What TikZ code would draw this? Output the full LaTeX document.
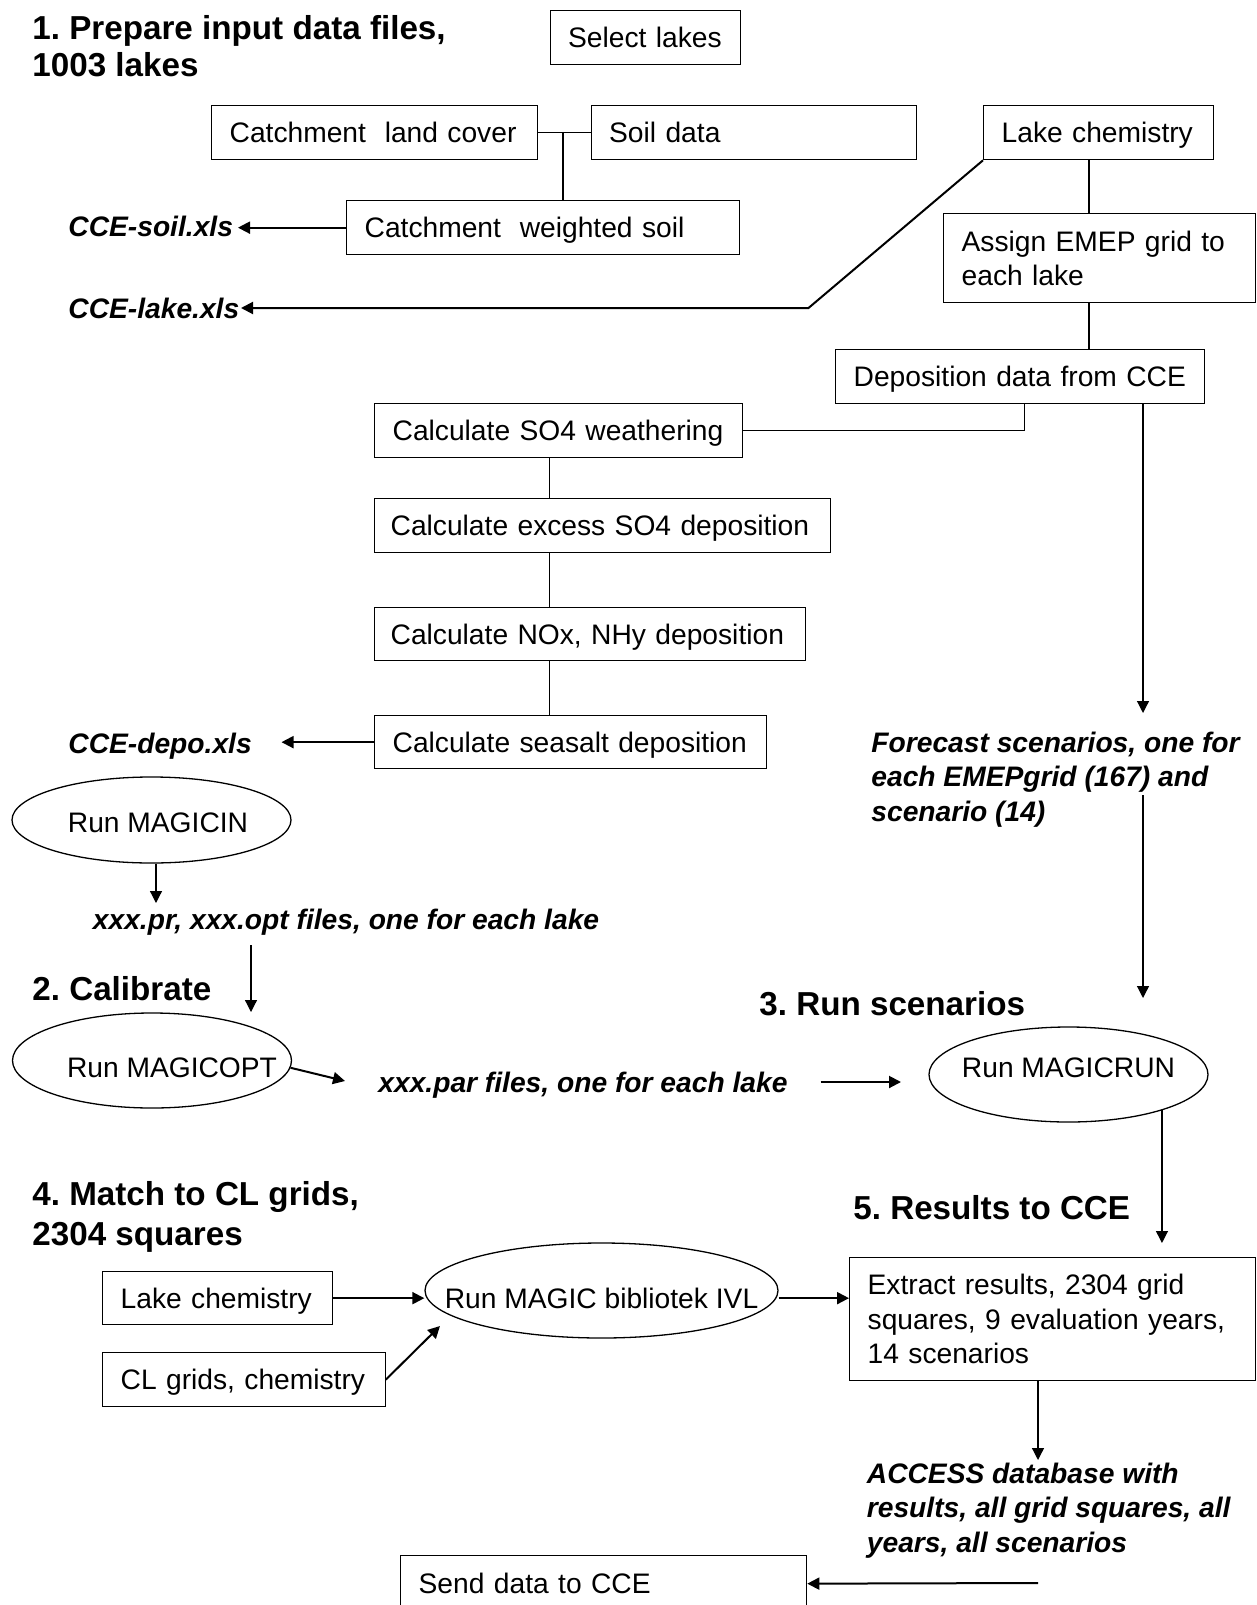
\documentclass[tikz,border=0pt]{standalone}
\usepackage{fontspec}
\setmainfont{Liberation Sans}
\usetikzlibrary{arrows.meta,shapes.geometric}
\newcommand\bodyf{\fontsize{14.1}{17.25}\selectfont}
\newcommand\headf{\fontsize{16.6}{18.5}\selectfont\bfseries}
\newcommand\headg{\fontsize{16.6}{20}\selectfont\bfseries}
\frenchspacing
\begin{document}
\begin{tikzpicture}[x=0.5pt,y=-0.5pt,
  >={Triangle[length=6pt,width=6pt]},
  box/.style={draw, line width=0.65pt, rectangle, anchor=north west, inner xsep=9pt, inner ysep=0pt, align=left, font=\bodyf, text depth=0pt},
  oval/.style={draw, ellipse, line width=0.65pt, inner sep=0pt},
  lblin/.style={font=\bodyf, inner sep=0pt},
  conn/.style={line width=0.6pt},
  thinarr/.style={line width=0.6pt, ->},
  thickarr/.style={line width=1pt, ->},
  lbl/.style={inner sep=0pt, anchor=base west, align=left, font=\bodyf\bfseries\itshape},
  head/.style={inner sep=0pt, anchor=base west, align=left, font=\headf},
  headb/.style={inner sep=0pt, anchor=base west, align=left, font=\headg}]
\useasboundingbox (0,0) rectangle (1257,1605);
\clip (0,0) rectangle (1257,1605);

% headings (base anchor = baseline of last line)
\node[head] (h1) at (32,77) {1. Prepare input data files,\\1003 lakes};
\node[head] (h2) at (32,1000) {2. Calibrate};
\node[head] (h3) at (759,1015) {3. Run scenarios};
\node[headb] (h4) at (32,1245) {4. Match to CL grids,\\2304 squares};
\node[head] (h5) at (853,1219) {5. Results to CCE};

% boxes
\node[box, text width=77.25pt, minimum height=27pt] (select) at (549.5,10) {Select lakes};
\node[box, text width=145pt, minimum height=27pt] (landcover) at (211,105) {Catchment\ \ land cover};
\node[box, text width=144.5pt, minimum height=27pt] (soil) at (590.5,105) {Soil data};
\node[box, text width=178.5pt, minimum height=27pt] (wsoil) at (346,200) {Catchment\ \ weighted soil};
\node[box, text width=96.75pt, minimum height=27pt] (lakechem) at (983,105) {Lake chemistry};
\node[box, text width=138pt, minimum height=44.5pt, text depth=17.25pt] (emep) at (943,213) {Assign EMEP grid to\\each lake};
\node[box, text width=166.5pt, minimum height=27pt] (depo) at (835,349) {Deposition data from CCE};
\node[box, text width=166pt, minimum height=27pt] (so4w) at (374,403) {Calculate SO4 weathering};
\node[box, inner xsep=8pt, text width=211.75pt, minimum height=27pt] (excess) at (374,498) {Calculate excess SO4 deposition};
\node[box, inner xsep=8pt, text width=199.25pt, minimum height=26.5pt] (nox) at (374,607) {Calculate NOx, NHy deposition};
\node[box, text width=178pt, minimum height=26.5pt] (seasalt) at (374,715) {Calculate seasalt deposition};
\node[box, text width=96.75pt, minimum height=26.5pt] (lakechem2) at (102,1271) {Lake chemistry};
\node[box, text width=123.25pt, minimum height=27pt] (clgrids) at (102,1352) {CL grids, chemistry};
\node[box, text width=185pt, minimum height=61.5pt, text depth=34.5pt] (extract) at (849,1257) {Extract results, 2304 grid\\squares, 9 evaluation years,\\14 scenarios};
\node[box, text width=185pt, minimum height=28pt] (send) at (400,1555) {Send data to CCE};

% italic labels (base anchor = baseline of last line)
\node[lbl] (soilfile) at (68,237) {CCE-soil.xls};
\node[lbl] (lakefile) at (68,318) {CCE-lake.xls};
\node[lbl] (depofile) at (68,753) {CCE-depo.xls};
\node[lbl] (forecast) at (871,821) {Forecast scenarios, one for\\each EMEPgrid (167) and\\scenario (14)};
\node[lbl] (prfiles) at (92.5,929) {xxx.pr, xxx.opt files, one for each lake};
\node[lbl] (parfiles) at (378,1092) {xxx.par files, one for each lake};
\node[lbl] (access) at (866.5,1552) {ACCESS database with\\results, all grid squares, all\\years, all scenarios};

% ellipses
\node[oval, minimum width=139.5pt, minimum height=43pt,
  label={[lblin, xshift=3.25pt, yshift=-1.5pt]center:Run MAGICIN}] (magicin) at (151.5,820) {};
\node[oval, minimum width=139.5pt, minimum height=47.5pt,
  label={[lblin, xshift=10pt, yshift=-3.5pt]center:Run MAGICOPT}] (magicopt) at (152,1060.5) {};
\node[oval, minimum width=139.5pt, minimum height=47.5pt,
  label={[lblin, yshift=3.25pt]center:Run MAGICRUN}] (magicrun) at (1068.5,1074.5) {};
\node[oval, minimum width=176.5pt, minimum height=47.5pt,
  label={[lblin, yshift=-4pt]center:Run MAGIC bibliotek IVL}] (ivl) at (601.5,1290.5) {};

% helper coordinates
\coordinate (j1) at (563,132);
\coordinate (rspine) at (1089,0);
\coordinate (spine) at (549.5,0);
\coordinate (soiltip) at (238,0);
\coordinate (lakebend) at (808.5,308);
\coordinate (laketip) at (241,308);
\coordinate (depotip) at (281.5,0);
\coordinate (fctip) at (1143,713);
\coordinate (fcout) at (1143,795);
\coordinate (runtip) at (1143,998);
\coordinate (prtip) at (156,903);
\coordinate (prout) at (251,945);
\coordinate (opttip) at (251,1012);
\coordinate (partip) at (345,1081);
\coordinate (parout) at (820.5,1082);
\coordinate (runin) at (901,1082);
\coordinate (extip) at (1160,1243);
\coordinate (cltip) at (440,1326);
\coordinate (acctip) at (1038,1460);
\coordinate (sendout) at (1038,1583);

% connectors, section 1
\draw[conn] (landcover.east) -- (soil.west);
\draw[conn] (j1) -- (j1 |- wsoil.north);
\draw[thickarr] (wsoil.west) -- (wsoil.west -| soiltip);
\draw[thickarr] (lakechem.south west) -- (lakebend) -- (laketip);
\draw[conn] (lakechem.south -| rspine) -- (emep.north -| rspine);
\draw[conn] (emep.south -| rspine) -- (depo.north -| rspine);
\draw[conn] ([xshift=2.25pt]depo.south) |- (so4w.east);
\draw[thinarr] (depo.south -| fctip) -- (fctip);
\draw[conn] (so4w.south -| spine) -- (excess.north -| spine);
\draw[conn] (excess.south -| spine) -- (nox.north -| spine);
\draw[conn] (nox.south -| spine) -- (seasalt.north -| spine);
\draw[thickarr] (seasalt.west) -- (seasalt.west -| depotip);
\draw[thinarr] (magicin.south -| prtip) -- (prtip);

% sections 2 and 3
\draw[thinarr] (prout) -- (opttip);
\draw[thickarr] (magicopt.-3) -- (partip);
\draw[thickarr] (parout) -- (runin);
\draw[thinarr] (fcout) -- (runtip);
\draw[thinarr] (magicrun.-21) -- (magicrun.-21 |- extip);

% sections 4 and 5
\draw[thickarr] (lakechem2.east) -- (lakechem2.east -| ivl.west);
\draw[thickarr] (clgrids.east) -- (cltip);
\draw[thickarr] (lakechem2.east -| ivl.east) -- (lakechem2.east -| extract.west);
\draw[thinarr] (extract.south -| acctip) -- (acctip);
\draw[thickarr] (sendout) -- (send.east);
\end{tikzpicture}
\end{document}
